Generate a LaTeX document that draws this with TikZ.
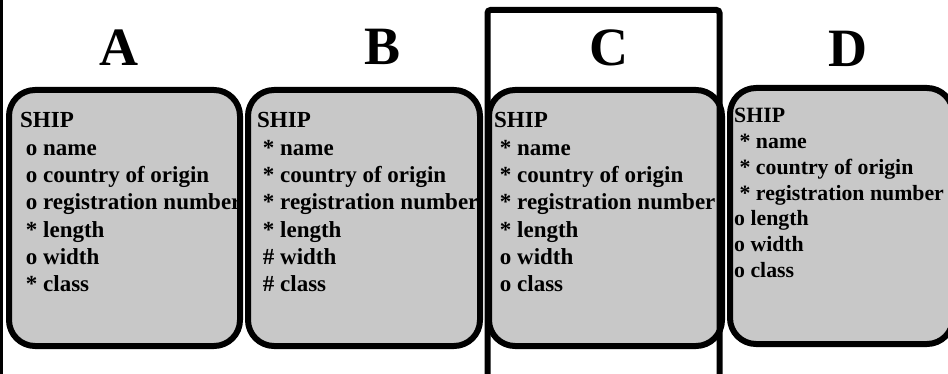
\documentclass[tikz,border=0pt]{standalone}
\usepackage{fontspec}
\setmainfont{Liberation Serif}
\definecolor{shipgray}{RGB}{200,200,200}
\begin{document}
\begin{tikzpicture}[x=1pt,y=-1pt,
  shipbox/.style={draw=black, line width=6pt, fill=shipgray, rounded corners=26pt,
    rectangle, inner sep=0pt, outer sep=0pt},
  title/.style={font=\fontsize{54}{60}\selectfont\bfseries, inner sep=0pt, anchor=base},
  attr/.style={font=\fontsize{23}{27}\selectfont\bfseries, inner sep=0pt, anchor=base west},
  attrD/.style={attr, font=\fontsize{21.8}{25}\selectfont\bfseries},
  frame/.style={draw=black, line width=6pt, rounded corners=3pt},
  edge/.style={draw=black, line width=3pt}]
\useasboundingbox (0,0) rectangle (948,374);
\clip (0,0) rectangle (948,374);

% column titles
\node[title] (tA) at (118.5,66) {A};
\node[title] (tB) at (382.5,65) {B};
\node[title] (tC) at (608.5,66) {C};
\node[title] (tD) at (847.5,67) {D};

% entity A
\node[shipbox, minimum width=231pt, minimum height=256pt] (boxA) at (124.5,218) {};
\foreach \t [count=\i] in {SHIP,\ o name,\ o country of origin,\ o registration number,\ * length,\ o width,\ * class}
  \node[attr] (A-\i) at (20,100.7+27.3*\i) {\t};

% entity B
\node[shipbox, minimum width=232pt, minimum height=256pt] (boxB) at (364,218) {};
\foreach \t [count=\i] in {SHIP,\ * name,\ * country of origin,\ * registration number,\ * length,\ \# width,\ \# class}
  \node[attr] (B-\i) at (257,100.7+27.3*\i) {\t};

% entity C
\node[shipbox, minimum width=233pt, minimum height=256pt] (boxC) at (605.5,218) {};
\foreach \t [count=\i] in {SHIP,\ * name,\ * country of origin,\ * registration number,\ * length,\ o width,\ o class}
  \node[attr] (C-\i) at (494,100.7+27.3*\i) {\t};

% entity D
\node[shipbox, minimum width=223pt, minimum height=256pt] (boxD) at (841.5,216) {};
\foreach \t [count=\i] in {SHIP,\ * name,\ * country of origin,\ * registration number,o length,o width,o class}
  \node[attrD] (D-\i) at (734,97.3+25.7*\i) {\t};

% frame around column C and left edge rule
\draw[frame] (487.5,390) -- (487.5,10) -- (719.5,10) -- (719.5,390);
\draw[edge] (1.5,-5) -- (1.5,380);
\end{tikzpicture}
\end{document}
